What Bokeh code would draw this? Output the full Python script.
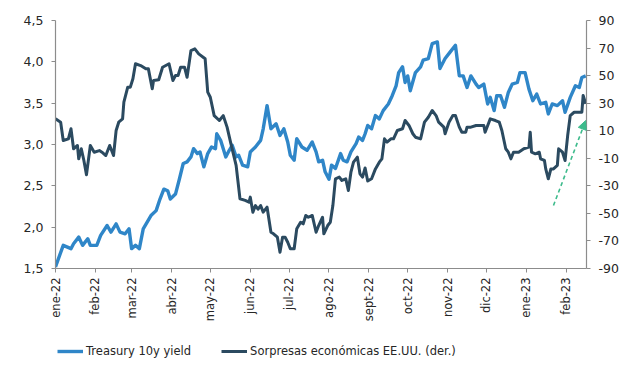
import math
from bokeh.plotting import figure
from bokeh.layouts import column
from bokeh.models import (Range1d, LinearAxis, FixedTicker, CustomJSTickFormatter,
                          Legend, LegendItem, Arrow, NormalHead, ColumnDataSource)
from bokeh.embed import file_html
from bokeh.resources import INLINE

# Ejes: dias desde 1-ene-2022
meses_dias = [0, 31, 59, 90, 120, 151, 181, 212, 243, 273, 304, 334, 365, 396]
meses_etiquetas = ["ene-22", "feb-22", "mar-22", "abr-22", "may-22", "jun-22", "jul-22",
                   "ago-22", "sept-22", "oct-22", "nov-22", "dic-22", "ene-23", "feb-23"]
ticks_izq = [1.5, 2.0, 2.5, 3.0, 3.5, 4.0, 4.5]
ticks_der = [-90, -70, -50, -30, -10, 10, 30, 50, 70, 90]

# Treasury 10y yield (eje izquierdo)
tsy_dias = [0, 6, 12, 14, 18, 21, 25, 27, 32, 35,
            40, 43, 47, 50, 54, 57, 59, 62, 65, 68,
            74, 78, 81, 84, 87, 89, 93, 96, 99, 102,
            105, 107, 110, 112, 115, 118, 121, 124, 125, 128,
            132, 134, 137, 140, 142, 145, 149, 151, 155, 159,
            161, 164, 167, 171, 174, 177, 180, 182, 185, 187,
            191, 195, 199, 202, 204, 207, 209, 212, 214, 217,
            221, 223, 226, 229, 233, 235, 238, 240, 242, 245,
            248, 251, 254, 258, 261, 264, 266, 269, 271, 273,
            275, 279, 283, 285, 289, 292, 296, 298, 302, 306,
            310, 313, 316, 319, 322, 326, 328, 332, 335, 337,
            340, 342, 345, 348, 351, 354, 358, 360, 364, 367,
            370, 373, 376, 380, 382, 385, 389, 393, 395, 399,
            403, 406, 408, 411]
tsy_valor = [1.52, 1.78, 1.74, 1.80, 1.88, 1.78, 1.86, 1.78, 1.78, 1.90,
             2.02, 1.94, 2.04, 1.94, 1.92, 1.98, 1.74, 1.78, 1.74, 1.98,
             2.14, 2.20, 2.34, 2.46, 2.44, 2.34, 2.40, 2.58, 2.77, 2.79,
             2.85, 2.95, 2.89, 2.91, 2.73, 2.89, 2.97, 2.95, 3.13, 3.05,
             2.85, 2.91, 2.99, 2.85, 2.87, 2.75, 2.73, 2.91, 2.97, 3.05,
             3.19, 3.47, 3.19, 3.25, 3.11, 3.19, 3.03, 2.87, 2.81, 3.07,
             2.97, 2.93, 3.03, 2.91, 2.79, 2.81, 2.67, 2.58, 2.75, 2.71,
             2.89, 2.81, 2.79, 2.91, 3.01, 3.09, 3.05, 3.13, 3.23, 3.19,
             3.35, 3.31, 3.41, 3.49, 3.59, 3.71, 3.87, 3.94, 3.75, 3.83,
             3.65, 3.87, 3.94, 4.02, 4.04, 4.22, 4.24, 3.92, 4.04, 4.12,
             4.20, 3.83, 3.83, 3.69, 3.83, 3.73, 3.69, 3.73, 3.49, 3.57,
             3.41, 3.59, 3.59, 3.45, 3.63, 3.73, 3.75, 3.87, 3.87, 3.67,
             3.53, 3.61, 3.49, 3.51, 3.37, 3.49, 3.47, 3.53, 3.39, 3.57,
             3.71, 3.69, 3.81, 3.83]

# Sorpresas economicas EE.UU. (eje derecho)
sor_dias = [0, 4, 6, 10, 12, 14, 17, 18, 20, 22,
            24, 27, 30, 34, 36, 39, 42, 45, 47, 49,
            52, 53, 56, 58, 60, 62, 66, 70, 72, 75,
            76, 80, 83, 88, 91, 93, 95, 97, 100, 102,
            105, 108, 111, 116, 118, 120, 123, 127, 130, 133,
            136, 140, 143, 147, 150, 151, 153, 155, 157, 159,
            161, 164, 167, 169, 172, 174, 176, 178, 180, 182,
            185, 187, 190, 192, 194, 196, 199, 202, 204, 207,
            208, 211, 213, 215, 217, 220, 222, 225, 227, 229,
            231, 234, 236, 238, 240, 242, 245, 248, 251, 253,
            255, 257, 260, 262, 265, 269, 271, 274, 277, 279,
            283, 286, 289, 292, 295, 297, 301, 302, 305, 308,
            310, 313, 315, 318, 319, 322, 326, 330, 332, 333,
            336, 337, 341, 344, 346, 349, 351, 353, 355, 359,
            363, 367, 368, 369, 372, 375, 376, 379, 380, 382,
            384, 386, 389, 390, 393, 395, 397, 399, 402, 406,
            408, 409, 411]
sor_valor = [18.6, 16.2, 2.9, 4.1, 11.4, -3.1, -0.7, -10.4, -3.1, -11.6,
             -22.0, -0.7, -5.6, -4.4, -5.6, -8.0, -0.7, -8.0, 10.2, 16.2,
             18.6, 30.7, 41.6, 41.6, 47.7, 58.6, 57.3, 54.9, 54.9, 40.4,
             46.5, 47.0, 56.1, 58.6, 46.5, 50.1, 50.1, 56.1, 56.1, 48.8,
             68.2, 69.4, 65.8, 62.2, 38.0, 34.3, 21.0, 17.4, 21.0, 12.6,
             0.5, -15.2, -39.4, -40.6, -41.9, -38.2, -49.1, -44.3, -47.0, -44.3,
             -49.1, -45.5, -63.7, -64.8, -67.3, -78.2, -67.3, -67.3, -70.9, -75.7,
             -75.7, -61.2, -56.4, -57.6, -51.5, -52.8, -51.5, -63.7, -58.8, -52.8,
             -64.8, -58.8, -56.4, -44.3, -24.9, -23.7, -26.1, -24.9, -33.4, -20.1,
             -12.8, -9.2, -21.3, -23.7, -17.0, -26.5, -24.9, -17.7, -12.8, -10.4,
             4.1, 1.7, 4.1, 4.1, 10.2, 11.4, 17.4, 13.8, 7.8, 5.3,
             4.1, 16.2, 19.8, 24.7, 21.0, 16.2, 12.6, 7.8, 16.2, 21.0,
             21.0, 12.6, 8.9, 8.9, 12.6, 12.6, 13.8, 13.8, 13.8, 8.9,
             16.2, 18.6, 17.4, 16.2, 10.2, -3.1, -5.6, -10.4, -5.6, -5.6,
             -3.1, -1.9, 8.9, -5.6, -6.8, -5.6, -10.4, -11.6, -17.7, -24.9,
             -17.7, -17.7, -15.2, -3.1, -5.6, -11.6, 6.5, 21.0, 23.4, 23.4,
             23.4, 35.6, 29.5]

# Flecha (dias, eje derecho)
flecha_x = [386, 411]
flecha_y = [-44.3, 17.4]

assert len(tsy_dias) == len(tsy_valor), (len(tsy_dias), len(tsy_valor))
assert len(sor_dias) == len(sor_valor), (len(sor_dias), len(sor_valor))

AZUL = "#2f86c8"
OSCURO = "#2b4a60"
VERDE = "#3dbb8c"
GRIS = "#8c8c8c"
TEXTO = "#262626"
FUENTE = "DejaVu Sans"

p = figure(width=640, height=336, output_backend="svg", toolbar_location=None,
           x_range=Range1d(0, 411.6), y_range=Range1d(1.5, 4.5),
           min_border_left=55, min_border_right=54, min_border_top=20,
           min_border_bottom=68)
p.outline_line_color = None
p.grid.visible = False
p.background_fill_color = "white"
p.border_fill_color = "white"
p.extra_y_ranges = {"der": Range1d(-90, 90)}

def estilo(ax, size):
    ax.axis_line_color = GRIS
    ax.axis_line_width = 1.2
    ax.major_tick_line_color = GRIS
    ax.major_tick_in = 0
    ax.major_tick_out = 4
    ax.minor_tick_line_color = None
    ax.major_label_text_font = FUENTE
    ax.major_label_text_font_size = size
    ax.major_label_text_color = TEXTO

xa = p.xaxis[0]
estilo(xa, "11.5px")
xa.ticker = FixedTicker(ticks=meses_dias)
xa.major_label_overrides = {d: e for d, e in zip(meses_dias, meses_etiquetas)}
xa.major_label_orientation = math.pi / 2
xa.major_label_standoff = 5

ya = p.yaxis[0]
estilo(ya, "12.5px")
ya.ticker = FixedTicker(ticks=ticks_izq)
ya.formatter = CustomJSTickFormatter(code="return tick.toFixed(1).replace('.', ',');")
ya.major_label_standoff = 8

yd = LinearAxis(y_range_name="der")
estilo(yd, "12.5px")
yd.ticker = FixedTicker(ticks=ticks_der)
yd.formatter = CustomJSTickFormatter(code="return tick.toFixed(0);")
yd.major_label_standoff = 8
p.add_layout(yd, "right")

src_t = ColumnDataSource(dict(x=tsy_dias, y=tsy_valor))
src_s = ColumnDataSource(dict(x=sor_dias, y=sor_valor))
p.line("x", "y", source=src_t, line_color=AZUL, line_width=3.4, line_join="round")
p.line("x", "y", source=src_s, line_color=OSCURO, line_width=3.0, line_join="round",
       y_range_name="der")

p.add_layout(Arrow(end=NormalHead(size=9, fill_color=VERDE, line_color=VERDE),
                   x_start=flecha_x[0], y_start=flecha_y[0],
                   x_end=flecha_x[1], y_end=flecha_y[1], y_range_name="der",
                   line_color=VERDE, line_width=1.6, line_dash="4 3"))

# Figura de la leyenda (las series quedan fuera de su rango; solo se ve la leyenda)
pl = figure(width=640, height=44, output_backend="svg", toolbar_location=None,
            x_range=Range1d(-20, -10), y_range=Range1d(-200, -190),
            min_border_left=0, min_border_right=0, min_border_top=0, min_border_bottom=0)
pl.outline_line_color = None
pl.axis.visible = False
pl.grid.visible = False
l1 = pl.line("x", "y", source=src_t, line_color=AZUL, line_width=3.4)
l2 = pl.line("x", "y", source=src_s, line_color=OSCURO, line_width=3.0)

legend = Legend(items=[LegendItem(label="Treasury 10y yield", renderers=[l1]),
                       LegendItem(label="Sorpresas económicas EE.UU. (der.)", renderers=[l2])],
                orientation="horizontal", location=(2, 22))
legend.glyph_width = 26
legend.glyph_height = 12
legend.label_standoff = 3
legend.spacing = 30
legend.padding = 0
legend.margin = 0
legend.border_line_color = None
legend.background_fill_alpha = 0
legend.label_text_font = FUENTE
legend.label_text_font_size = "11.5px"
legend.label_text_color = TEXTO
pl.add_layout(legend, "center")

open("out.html", "w").write(file_html(column(p, pl, spacing=0), INLINE))
